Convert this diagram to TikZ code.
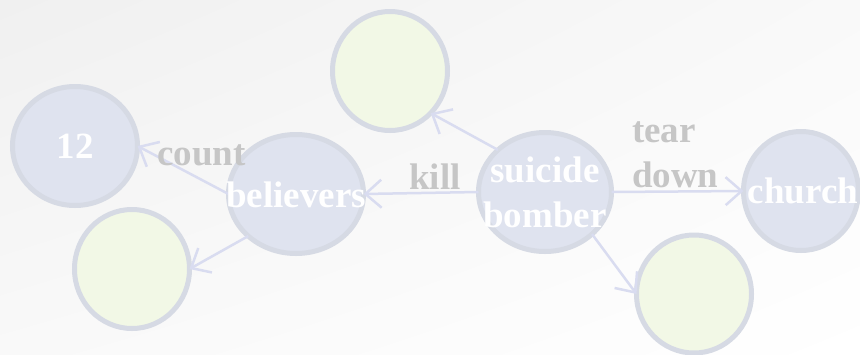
\documentclass[tikz,border=0pt]{standalone}
\usepackage{fontspec}
\setmainfont{Liberation Serif}
\usetikzlibrary{shapes.geometric,arrows.meta,shadings}

\definecolor{bgcorner}{HTML}{F0F0F0}
\definecolor{bgmid}{HTML}{F9F9F9}
\definecolor{nodeblue}{HTML}{DFE3EF}
\definecolor{nodegreen}{HTML}{F2F8E6}
\definecolor{rim}{HTML}{D6DAE4}
\definecolor{edgecol}{HTML}{D9DCF0}
\definecolor{labelgray}{HTML}{C6C6C6}

\tikzset{
  blob/.style={ellipse, draw=rim, line width=5pt, inner sep=0pt, outer sep=0pt},
  concept/.style={blob, fill=nodeblue},
  blank/.style={blob, fill=nodegreen},
  nodetext/.style={text=white, font=\bfseries\fontsize{37}{45}\selectfont, align=center, anchor=base, inner sep=0pt},
  reltext/.style={text=labelgray, font=\bfseries\fontsize{37}{45}\selectfont, align=left, anchor=base west, inner sep=0pt},
  link/.style={draw=edgecol, line width=2.5pt, -{Straight Barb[length=16pt,width=28pt]}}
}

\begin{document}
\begin{tikzpicture}[x=1pt, y=-1pt]
  % canvas with a soft diagonal gradient
  \useasboundingbox (0,0) rectangle (860,354);
  \shade[upper left=bgcorner, upper right=bgmid, lower left=bgmid, lower right=white]
    (0,0) rectangle (860,354);

  % concept nodes
  \node[concept, minimum width=125pt, minimum height=119pt] (n12)    at (75,146)  {};
  \node[concept, minimum width=135pt, minimum height=119pt] (bel)    at (296,194) {};
  \node[concept, minimum width=133pt, minimum height=119pt] (bom)    at (545,192) {};
  \node[concept, minimum width=115pt, minimum height=119pt] (church) at (801,191) {};

  % empty placeholder nodes
  \node[blank, minimum width=115pt, minimum height=119pt] (gtop) at (390,71)  {};
  \node[blank, minimum width=115pt, minimum height=119pt] (gbl)  at (132,269) {};
  \node[blank, minimum width=115pt, minimum height=118pt] (gbr)  at (694,294) {};

  % relations
  \draw[link] (bel.west) -- (n12.east);
  \draw[link] (bel.south west) -- (gbl.east);
  \draw[link] (bom.west) -- (bel.east);
  \draw[link] (bom.north west) -- (gtop.south east);
  \draw[link] (bom.east) -- (church.west);
  \draw[link] (bom.south east) -- (gbr.west);

  % node captions (multi-line text sits on the baseline of its last line)
  \node[nodetext] (t12)     at (75,158)  {12};
  \node[nodetext] (tbel)    at (296,207) {believers};
  \node[nodetext] (tbom)    at (545,227) {suicide\\bomber};
  \node[nodetext] (tchurch) at (803,203) {church};

  % relation labels
  \node[reltext] (lcount) at (157,165) {count};
  \node[reltext] (lkill)  at (409,189) {kill};
  \node[reltext] (ltear)  at (632,187) {tear\\down};
\end{tikzpicture}
\end{document}
